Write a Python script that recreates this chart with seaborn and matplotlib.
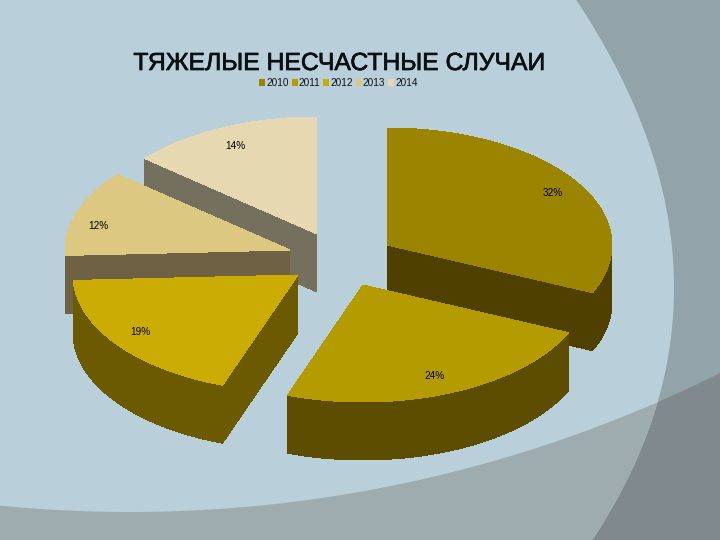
import numpy as np
import matplotlib
matplotlib.use('Agg')
import matplotlib.pyplot as plt
import matplotlib.patheffects as pe
import seaborn as sns
from matplotlib.collections import PolyCollection
from matplotlib.patches import Patch, Polygon

years = ['2010', '2011', '2012', '2013', '2014']
shares = [32, 24, 19, 12, 14]
top_colors = ['#9a8400', '#b49b00', '#cbac05', '#dcc880', '#e6d8b0']
side_colors = ['#4f4000', '#5c4d00', '#6b5a00', '#6f6244', '#75705e']

# layout, in pixels of the 720x540 slide
apex = [(387, 245), (363, 285), (298, 275), (290, 250), (317, 234)]
label_pos = [(553, 193), (435, 376), (140, 332), (98, 226), (235, 146)]
draw_order = [4, 3, 2, 0, 1]
rx, ry, depth = 225, 117, 58

sns.set_theme(style='white')
plt.rcParams['font.family'] = ['Liberation Sans', 'DejaVu Sans']

fig = plt.figure(figsize=(7.2, 5.4), dpi=100)
ax = fig.add_axes([0, 0, 1, 1])
ax.set_xlim(0, 720)
ax.set_ylim(540, 0)
ax.axis('off')
ax.add_patch(Polygon([(0, 0), (720, 0), (720, 540), (0, 540)], fc='#92a3aa', ec='none'))

# slide background: lower band and big curved panel
band_x = np.linspace(0, 720, 200)
band_y = -810 + np.sqrt(1322 ** 2 - (band_x - 130) ** 2)
band = np.vstack([np.column_stack([band_x, band_y]), [(720, 540), (0, 540)]])
ax.add_patch(Polygon(band, fc='#808a8e', ec='none'))

curve_y = np.linspace(0, 540, 200)
curve_x = np.polyval(np.polyfit([0, 135, 280, 402, 540], [576, 647, 672, 659, 592], 3), curve_y)
panel = Polygon(np.vstack([np.column_stack([curve_x, curve_y]), [(0, 540), (0, 0)]]), fc='#b9cfda', ec='none')
ax.add_patch(panel)
band_in = Polygon(band, fc='#9eabaf', ec='none')
ax.add_patch(band_in)
band_in.set_clip_path(panel)

# 3d pie, every slice with its own offset apex
edges = np.cumsum([0] + shares) / sum(shares) * 2 * np.pi
for i in draw_order:
    cx, cy = apex[i]
    t = np.linspace(edges[i], edges[i + 1], 80)
    outline = np.vstack([[(cx, cy)], np.column_stack([cx + rx * np.sin(t), cy - ry * np.cos(t)])])
    nxt = np.roll(outline, -1, axis=0)
    quads = [[a, b, b + (0, depth), a + (0, depth)] for a, b in zip(outline, nxt)]
    ax.add_collection(PolyCollection(quads, facecolors=side_colors[i], edgecolors='none', antialiaseds=False))
    ax.add_patch(Polygon(outline, fc=top_colors[i], ec='none', antialiased=False))

for share, (x, y) in zip(shares, label_pos):
    ax.text(x, y, f'{share}%', fontsize=7.2, color='black', ha='center', va='center')

title = ax.text(339, 63, 'ТЯЖЕЛЫЕ НЕСЧАСТНЫЕ СЛУЧАИ', fontsize=17.8, color='#0b0f14', ha='center', va='center')
title.set_path_effects([pe.withStroke(linewidth=0.5, foreground='#0b0f14')])

handles = [Patch(fc=c, ec='none', label=y) for c, y in zip(top_colors, years)]
ax.legend(handles=handles, ncol=5, loc='center', bbox_to_anchor=(338.5 / 720, 1 - 83 / 540), frameon=False,
          fontsize=7.2, handlelength=0.6, handleheight=0.7, handletextpad=0.1, columnspacing=0.3,
          labelcolor='#111111')

fig.savefig('out.png', dpi=100)
plt.close()
